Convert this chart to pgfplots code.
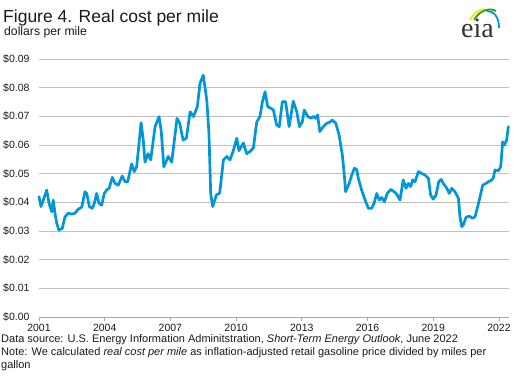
\documentclass[border=0pt]{standalone}
\usepackage{fontspec}
\setmainfont{Liberation Sans}
\newfontfamily\seriffont{Liberation Serif}
\usepackage{pgfplots}
\pgfplotsset{compat=1.18}
\definecolor{eiablue}{HTML}{0096D7}
\definecolor{gridgray}{HTML}{BFBFBF}
\definecolor{axgray}{HTML}{A6A6A6}
\definecolor{txt}{HTML}{1A1A1A}
\begin{document}
\begin{tikzpicture}[x=1bp,y=1bp]
\useasboundingbox (0,0) rectangle (518,377);
% header
\node[anchor=base west, inner sep=0, text=txt, font=\fontsize{17.5bp}{20bp}\selectfont] at (3,354.5) {Figure 4. Real cost per mile};
\node[anchor=base west, inner sep=0, text=txt, font=\fontsize{12.2bp}{14bp}\selectfont] at (4,341.5) {dollars per mile};
% eia logo
\node[anchor=base west, inner sep=0, text=black!80, font=\seriffont\fontsize{28bp}{30bp}\selectfont] at (461,340) {eia};
\draw[yellow!85!orange, line width=1.8bp] (470,357) .. controls (473,363) and (478,367) .. (484,368);
\draw[green!55!black!80!lime, line width=1.8bp] (474,357) .. controls (479,366) and (489,370) .. (496,366);
\draw[eiablue, line width=1.8bp] (487,366) .. controls (494,366) and (499,360) .. (499,349);
\begin{axis}[
  at={(39bp,60bp)}, anchor=south west,
  scale only axis, width=470bp, height=258bp,
  xmin=2001, xmax=2022.46, ymin=0, ymax=0.09,
  separate axis lines,
  axis x line*=bottom, axis y line*=left,
  y axis line style={draw=none},
  x axis line style={axgray, line width=0.8bp},
  xtick={2001,2004,2007,2010,2013,2016,2019,2022},
  xticklabels={2001,2004,2007,2010,2013,2016,2019,2022},
  ytick={0,0.01,0.02,0.03,0.04,0.05,0.06,0.07,0.08,0.09},
  yticklabels={\$0.00,\$0.01,\$0.02,\$0.03,\$0.04,\$0.05,\$0.06,\$0.07,\$0.08,\$0.09},
  scaled y ticks=false,
  ytick style={draw=none},
  xtick style={axgray, line width=0.8bp},
  tick align=outside, major tick length=4bp,
  ymajorgrids, grid style={gridgray, line width=0.9bp},
  tick label style={font=\fontsize{10.5bp}{12bp}\selectfont, text=txt},
  yticklabel style={xshift=-2bp},
  clip=false,
]
\addplot[eiablue, line width=2.7bp, line join=round, line cap=round] coordinates {
(2001.00,0.0420) (2001.09,0.0385) (2001.20,0.0408) (2001.35,0.0443) (2001.46,0.0397)
(2001.58,0.0367) (2001.65,0.0408) (2001.73,0.0362) (2001.81,0.0327) (2001.91,0.0303)
(2002.06,0.0309) (2002.19,0.0350) (2002.34,0.0362) (2002.49,0.0359) (2002.64,0.0362)
(2002.79,0.0376) (2002.95,0.0383) (2003.10,0.0437) (2003.18,0.0431) (2003.30,0.0385)
(2003.43,0.0379) (2003.53,0.0397) (2003.63,0.0431) (2003.74,0.0397) (2003.86,0.0390)
(2003.98,0.0431) (2004.09,0.0443) (2004.20,0.0449) (2004.35,0.0487) (2004.47,0.0466)
(2004.62,0.0460) (2004.80,0.0492) (2004.93,0.0472) (2005.05,0.0472) (2005.23,0.0534)
(2005.35,0.0507) (2005.46,0.0524) (2005.66,0.0678) (2005.76,0.0617) (2005.84,0.0540)
(2005.98,0.0570) (2006.10,0.0548) (2006.30,0.0664) (2006.48,0.0699) (2006.58,0.0650)
(2006.70,0.0524) (2006.90,0.0560) (2007.06,0.0540) (2007.30,0.0693) (2007.42,0.0677)
(2007.58,0.0617) (2007.73,0.0624) (2007.90,0.0716) (2008.05,0.0699) (2008.23,0.0734)
(2008.35,0.0815) (2008.50,0.0844) (2008.66,0.0757) (2008.76,0.0640) (2008.84,0.0430)
(2008.93,0.0385) (2009.10,0.0426) (2009.25,0.0432) (2009.42,0.0548) (2009.57,0.0560)
(2009.72,0.0548) (2009.87,0.0580) (2010.03,0.0624) (2010.13,0.0580) (2010.33,0.0607)
(2010.48,0.0570) (2010.63,0.0577) (2010.79,0.0590) (2010.94,0.0680) (2011.09,0.0700)
(2011.20,0.0751) (2011.32,0.0786) (2011.44,0.0734) (2011.59,0.0728) (2011.70,0.0722)
(2011.85,0.0670) (2011.97,0.0664) (2012.11,0.0751) (2012.26,0.0751) (2012.42,0.0664)
(2012.61,0.0753) (2012.77,0.0716) (2012.89,0.0664) (2013.02,0.0680) (2013.11,0.0722)
(2013.27,0.0700) (2013.42,0.0693) (2013.53,0.0700) (2013.63,0.0693) (2013.72,0.0705)
(2013.82,0.0647) (2013.98,0.0664) (2014.14,0.0676) (2014.29,0.0680) (2014.39,0.0687)
(2014.55,0.0676) (2014.70,0.0635) (2014.85,0.0565) (2014.94,0.0495) (2015.00,0.0437)
(2015.16,0.0466) (2015.28,0.0495) (2015.40,0.0519) (2015.50,0.0515) (2015.58,0.0484)
(2015.73,0.0443) (2015.89,0.0408) (2016.04,0.0379) (2016.19,0.0379) (2016.30,0.0397)
(2016.42,0.0431) (2016.54,0.0408) (2016.65,0.0417) (2016.77,0.0402) (2016.90,0.0431)
(2017.06,0.0445) (2017.21,0.0437) (2017.33,0.0429) (2017.48,0.0408) (2017.63,0.0478)
(2017.76,0.0449) (2017.86,0.0466) (2017.97,0.0455) (2018.06,0.0478) (2018.17,0.0472)
(2018.32,0.0507) (2018.47,0.0501) (2018.63,0.0495) (2018.78,0.0484) (2018.88,0.0426)
(2019.00,0.0411) (2019.13,0.0426) (2019.25,0.0472) (2019.36,0.0480) (2019.46,0.0466)
(2019.62,0.0449) (2019.73,0.0431) (2019.84,0.0449) (2019.99,0.0437) (2020.15,0.0414)
(2020.22,0.0350) (2020.30,0.0315) (2020.37,0.0321) (2020.50,0.0348) (2020.65,0.0352)
(2020.80,0.0344) (2020.91,0.0350) (2021.01,0.0379) (2021.14,0.0420) (2021.26,0.0460)
(2021.41,0.0466) (2021.52,0.0472) (2021.63,0.0476) (2021.74,0.0484) (2021.82,0.0513)
(2021.97,0.0510) (2022.08,0.0524) (2022.17,0.0611) (2022.25,0.0600) (2022.35,0.0617)
(2022.43,0.0664)
};
\end{axis}
% footnotes
\node[anchor=base west, inner sep=0, text=txt, font=\fontsize{11bp}{13bp}\selectfont] at (1,35) {Data source: U.S. Energy Information Adminitstration, \textit{Short-Term Energy Outlook}, June 2022};
\node[anchor=base west, inner sep=0, text=txt, font=\fontsize{11bp}{13bp}\selectfont] at (1,22) {Note: We calculated \textit{real cost per mile} as inflation-adjusted retail gasoline price divided by miles per};
\node[anchor=base west, inner sep=0, text=txt, font=\fontsize{11bp}{13bp}\selectfont] at (1,9) {gallon};
\end{tikzpicture}
\end{document}
